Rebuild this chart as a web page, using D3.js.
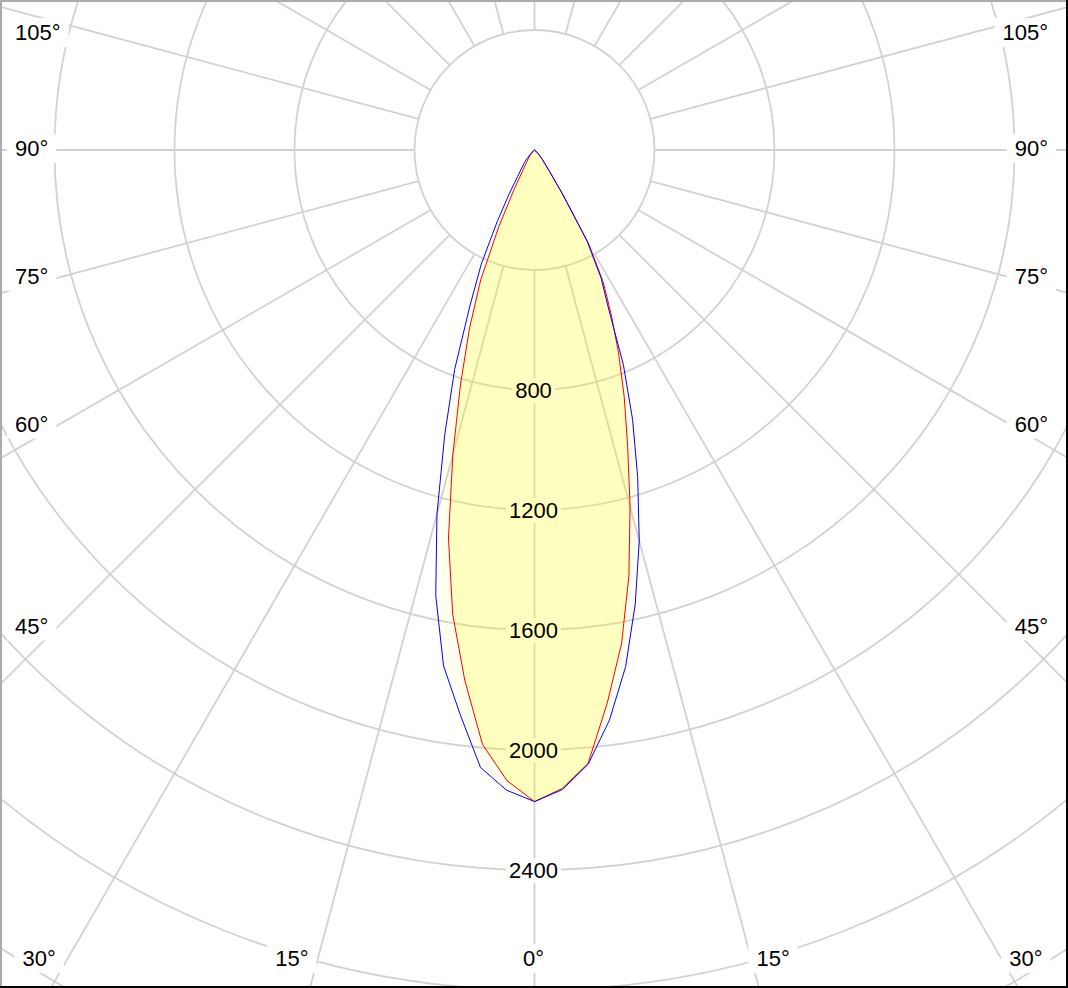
<!DOCTYPE html>
<html><head><meta charset="utf-8">
<script src="https://cdn.jsdelivr.net/npm/d3@7"></script>
<style>html,body{margin:0;padding:0;background:#fff;overflow:hidden}</style>
</head><body><svg id="c" width="1068" height="988"></svg>
<script>
// gamma angles (deg from nadir) and luminous intensities (cd)
const gamma = [0,2.5,5,7.5,10,12.5,15,17.5,20,22.5,25,27.5,30,32.5,35,37.5,40,45,50,55,60,70,80,90];
const c0   = [2172,2130,2052,1859,1671,1454,1231,1032,874,732,605,495,362,178,88,56,41,18,6,0,0,0,0,0];    // red, right half
const c180 = [2172,2104,1989,1782,1571,1325,1052,821,635,469,281,145,75,50,38,29,22,10,3,0,0,0,0,0];     // red, left half
const c90  = [2172,2134,2055,1916,1749,1551,1349,1144,956,774,585,480,350,170,85,55,40,18,6,0,0,0,0,0];   // blue, right half
const c270 = [2172,2136,2066,1898,1746,1521,1256,995,778,563,420,270,169,105,77,58,44,19,6,0,0,0,0,0];   // blue, left half
const ringValues = [400,800,1200,1600,2000,2400,2800,3200];
const ringLabels = [800,1200,1600,2000,2400];
const sideLabels = [105,90,75,60,45];
const bottomLabels = [30,15,0];

const W = 1068, H = 988, cx = 534.5, cy = 150;
const r = d3.scaleLinear().domain([0, 2400]).range([0, 720]);
const rad = d => d * Math.PI / 180;
const svg = d3.select("#c");
const font = "'Liberation Sans', Arial, sans-serif";
const grid = "#d2d2d2";

const gGrid = svg.append("g");
const gBg = svg.append("g");
const gFill = svg.append("g");
const gLine = svg.append("g");
const gText = svg.append("g");

// spokes every 15 deg starting at the 400 ring
d3.range(0, 360, 15).forEach(a => {
  const r0 = r(400), r1 = 1200;
  gGrid.append("line")
    .attr("x1", cx + r0 * Math.sin(rad(a))).attr("y1", cy + r0 * Math.cos(rad(a)))
    .attr("x2", cx + r1 * Math.sin(rad(a))).attr("y2", cy + r1 * Math.cos(rad(a)))
    .attr("stroke", grid).attr("stroke-width", 1.8);
});
ringValues.forEach(v => {
  gGrid.append("circle").attr("cx", cx).attr("cy", cy).attr("r", r(v))
    .attr("fill", "none").attr("stroke", grid).attr("stroke-width", 1.8);
});

function label(x, y, txt, anchor, padX, padY, layerText) {
  const t = layerText.append("text").attr("x", x).attr("y", y + 8)
    .attr("text-anchor", anchor).attr("font-family", font).attr("font-size", 22)
    .attr("fill", "#000").text(txt);
  const b = t.node().getBBox();
  gBg.append("rect").attr("x", b.x - padX).attr("y", b.y - padY)
    .attr("width", b.width + 2 * padX).attr("height", b.height + 2 * padY).attr("fill", "#fff");
}

// ring value labels
ringLabels.forEach(v => label(cx - 1, cy + r(v), String(v), "middle", 3, 0, gText));

// side angle labels
sideLabels.forEach(a => {
  const t = Math.tan(rad(90 - a));
  let y = cy + (cx - 57) * t - 2;
  y = Math.max(y, 32);
  label(15, y, a + "°", "start", 8, 2, gText);
  label(W - 20, y, a + "°", "end", 8, 2, gText);
});
// bottom angle labels
bottomLabels.forEach(a => {
  const yc = H - 30;
  if (a === 0) { label(cx - 1, yc, "0°", "middle", 8, 2, gText); return; }
  const dx = (H - 21 - cy) * Math.tan(rad(a));
  label(cx - dx - 7, yc, a + "°", "end", 8, 2, gText);
  label(cx + dx + 3, yc, a + "°", "start", 8, 2, gText);
});

// curves
function pts(left, right) {
  const p = [];
  for (let i = gamma.length - 1; i >= 0; i--) {
    const rr = r(left[i]);
    p.push([cx - rr * Math.sin(rad(gamma[i])), cy + rr * Math.cos(rad(gamma[i]))]);
  }
  for (let i = 1; i < gamma.length; i++) {
    const rr = r(right[i]);
    p.push([cx + rr * Math.sin(rad(gamma[i])), cy + rr * Math.cos(rad(gamma[i]))]);
  }
  return p;
}
const line = d3.line().curve(d3.curveLinearClosed);
const blue = pts(c270, c90), red = pts(c180, c0);
gFill.append("path").attr("d", line(blue)).attr("fill", "rgba(255,255,0,0.06)");
gFill.append("path").attr("d", line(red)).attr("fill", "rgba(255,255,0,0.2)");
gLine.append("path").attr("d", line(red)).attr("fill", "none").attr("stroke", "#ff0000").attr("stroke-width", 1).attr("stroke-linejoin", "round");
gLine.append("path").attr("d", line(blue)).attr("fill", "none").attr("stroke", "#0000ff").attr("stroke-width", 1).attr("stroke-linejoin", "round");

// frame
svg.append("rect").attr("x", 0).attr("y", 0).attr("width", W).attr("height", 2).attr("fill", "#ababab");
svg.append("rect").attr("x", 0).attr("y", 0).attr("width", 2).attr("height", H).attr("fill", "#ababab");
svg.append("rect").attr("x", 0).attr("y", H - 2).attr("width", W).attr("height", 2).attr("fill", "#000");
svg.append("rect").attr("x", W - 2).attr("y", 0).attr("width", 2).attr("height", H).attr("fill", "#000");
</script></body></html>
